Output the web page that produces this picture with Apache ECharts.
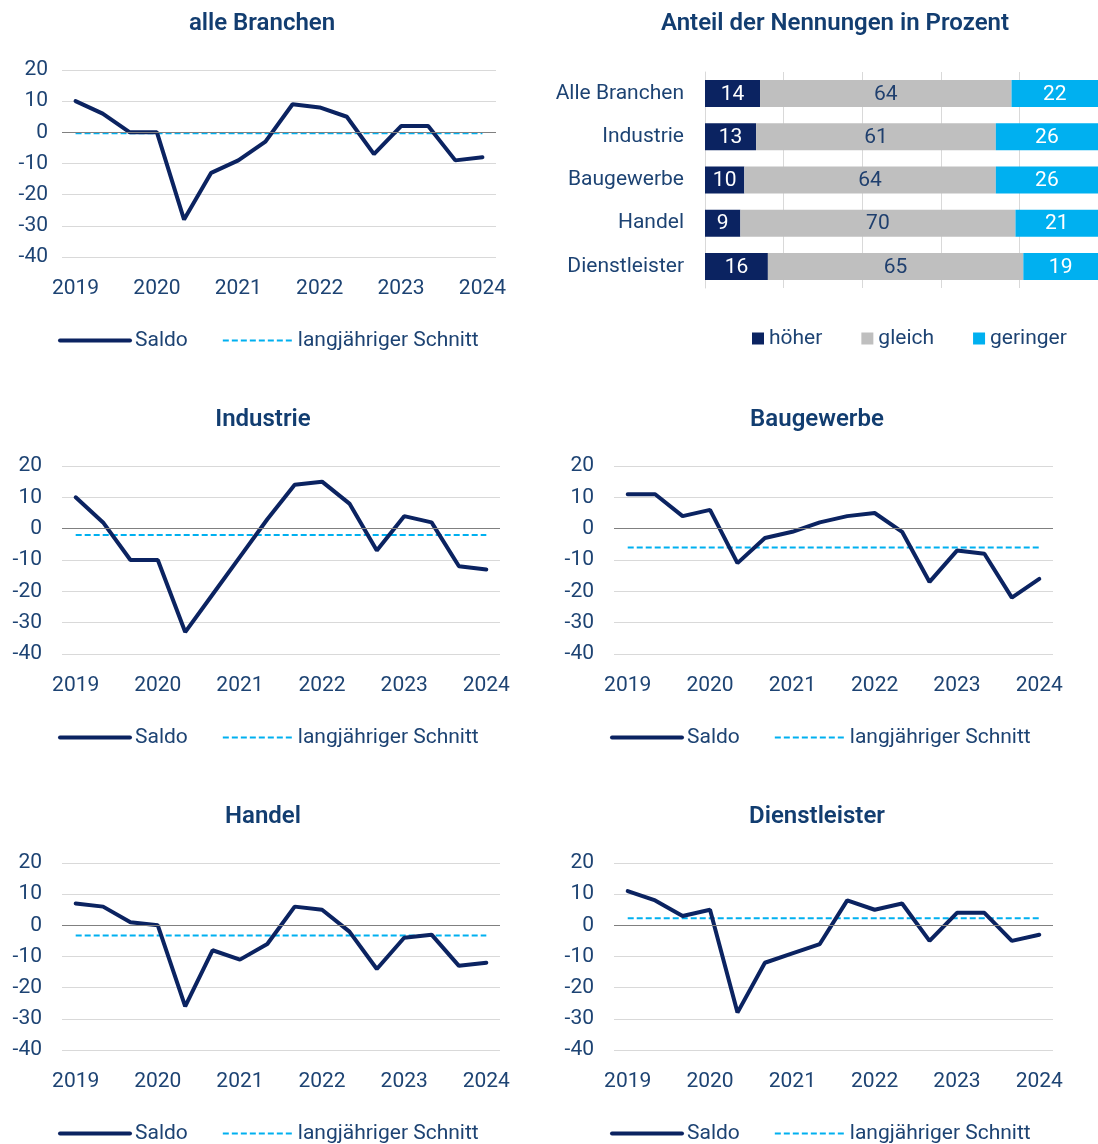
<!DOCTYPE html>
<html>
<head>
<meta charset="utf-8">
<script src="https://cdn.jsdelivr.net/npm/echarts@6/dist/echarts.min.js"></script>
<style>
  html, body { margin: 0; padding: 0; background: #fff; }
  #chart { width: 1098px; height: 1144px; }
</style>
</head>
<body>
<div id="chart"></div>
<script>
  // Perioden: drei Umfragen pro Jahr
  const periods = ['2019-1', '2019-2', '2019-3', '2020-1', '2020-2', '2020-3', '2021-1', '2021-2', '2021-3',
    '2022-1', '2022-2', '2022-3', '2023-1', '2023-2', '2023-3', '2024-1'];

  const alleSaldo = [10, 6, 0, 0, -28, -13, -9, -3, 9, 8, 5, -7, 2, 2, -9, -8];
  const industrieSaldo = [10, 2, -10, -10, -33, -21, -9, 3, 14, 15, 8, -7, 4, 2, -12, -13];
  const bauSaldo = [11, 11, 4, 6, -11, -3, -1, 2, 4, 5, -1, -17, -7, -8, -22, -16];
  const handelSaldo = [7, 6, 1, 0, -26, -8, -11, -6, 6, 5, -2, -14, -4, -3, -13, -12];
  const dienstSaldo = [11, 8, 3, 5, -28, -12, -9, -6, 8, 5, 7, -5, 4, 4, -5, -3];

  // langjähriger Schnitt je Branche
  const alleSchnitt = -0.3;
  const industrieSchnitt = -2;
  const bauSchnitt = -6;
  const handelSchnitt = -3.3;
  const dienstSchnitt = 2.3;

  // Anteil der Nennungen in Prozent
  const branchen = ['Alle Branchen', 'Industrie', 'Baugewerbe', 'Handel', 'Dienstleister'];
  const hoeher = [14, 13, 10, 9, 16];
  const gleich = [64, 61, 64, 70, 65];
  const geringer = [22, 26, 26, 21, 19];

  const yTicks = { min: -40, max: 20, interval: 10 };

  const FONT = 'Roboto, "Noto Sans", sans-serif';
  const NAVY = '#0b2361';
  const CYAN = '#00b0f0';
  const GREY = '#bfbfbf';
  const TXT = '#1d4373';
  const TITLE = '#123d70';

  // Panels der Liniencharts
  const panels = [
    { title: 'alle Branchen', saldo: alleSaldo, schnitt: alleSchnitt, left: 62, width: 434, top: 70, height: 187, cx: 262, labelMargin: 14 },
    { title: 'Industrie', saldo: industrieSaldo, schnitt: industrieSchnitt, left: 62, width: 438, top: 466, height: 188, cx: 263, labelMargin: 20 },
    { title: 'Baugewerbe', saldo: bauSaldo, schnitt: bauSchnitt, left: 614, width: 439, top: 466, height: 188, cx: 817, labelMargin: 20 },
    { title: 'Handel', saldo: handelSaldo, schnitt: handelSchnitt, left: 62, width: 438, top: 863, height: 187, cx: 263, labelMargin: 20 },
    { title: 'Dienstleister', saldo: dienstSaldo, schnitt: dienstSchnitt, left: 614, width: 439, top: 863, height: 187, cx: 817, labelMargin: 20 }
  ];

  const grid = [], xAxis = [], yAxis = [], series = [], title = [], legend = [];

  panels.forEach(function (p, i) {
    grid.push({ left: p.left, top: p.top, width: p.width, height: p.height });
    xAxis.push({
      type: 'category', gridIndex: i, data: periods, boundaryGap: true,
      axisLine: { show: false }, axisTick: { show: false }, splitLine: { show: false },
      axisLabel: {
        interval: function (idx) { return idx % 3 === 0; },
        formatter: function (v) { return v.slice(0, 4); },
        margin: 21, fontSize: 21, color: TXT, fontFamily: FONT
      }
    });
    yAxis.push({
      type: 'value', gridIndex: i, min: yTicks.min, max: yTicks.max, interval: yTicks.interval,
      axisLine: { show: false }, axisTick: { show: false },
      axisLabel: { fontSize: 21, color: TXT, fontFamily: FONT, margin: p.labelMargin },
      splitLine: { lineStyle: { color: '#d9d9d9', width: 1 } }
    });
    series.push({
      name: 'langjähriger Schnitt', type: 'line', xAxisIndex: i, yAxisIndex: i,
      data: periods.map(function () { return p.schnitt; }),
      symbol: 'none', silent: true,
      lineStyle: { color: CYAN, width: 2, type: [6, 3] },
      itemStyle: { color: CYAN },
      markLine: {
        silent: true, symbol: 'none', label: { show: false },
        lineStyle: { color: '#808080', type: 'solid', width: 1 },
        data: [{ yAxis: 0 }]
      },
      z: 2
    });
    series.push({
      name: 'Saldo', type: 'line', xAxisIndex: i, yAxisIndex: i,
      data: p.saldo, symbol: 'none', silent: true,
      lineStyle: { color: NAVY, width: 4, cap: 'round' },
      itemStyle: { color: NAVY },
      z: 3
    });
    title.push({
      text: p.title, left: p.cx, textAlign: 'center', top: p.top - 58, padding: 0,
      textStyle: { fontSize: 24, fontWeight: 600, color: TITLE, fontFamily: FONT }
    });
    legend.push({
      data: [
        { name: 'Saldo', lineStyle: { width: 4, cap: 'round' } },
        { name: 'langjähriger Schnitt', lineStyle: { width: 2, type: [6, 3] } }
      ],
      left: p.left - 4, top: p.top + p.height + 73, padding: 0,
      itemWidth: 70, itemHeight: 14, itemGap: 34,
      itemStyle: { opacity: 0 },
      textStyle: { fontSize: 21, color: TXT, fontFamily: FONT },
      selectedMode: false
    });
  });

  // Balkendiagramm
  const b = panels.length;
  grid.push({ left: 705, top: 72, width: 395, height: 216 });
  xAxis.push({
    type: 'value', gridIndex: b, min: 0, max: 100, interval: 20,
    axisLine: { show: false }, axisTick: { show: false }, axisLabel: { show: false },
    splitLine: { lineStyle: { color: '#d9d9d9', width: 1 } }
  });
  yAxis.push({
    type: 'category', gridIndex: b, data: branchen, inverse: true,
    axisLine: { lineStyle: { color: '#d9d9d9', width: 1 } }, axisTick: { show: false },
    axisLabel: { fontSize: 21, color: TXT, fontFamily: FONT, margin: 21 }
  });
  const barParts = [
    { name: 'höher', data: hoeher, color: NAVY, label: '#ffffff' },
    { name: 'gleich', data: gleich, color: GREY, label: '#1f3f6e' },
    { name: 'geringer', data: geringer, color: CYAN, label: '#ffffff' }
  ];
  barParts.forEach(function (s) {
    series.push({
      name: s.name, type: 'bar', stack: 'anteil', xAxisIndex: b, yAxisIndex: b,
      data: s.data, barWidth: 27, silent: true,
      itemStyle: { color: s.color },
      label: { show: true, position: 'inside', color: s.label, fontSize: 21, fontFamily: FONT, offset: [0, 1] }
    });
  });
  title.push({
    text: 'Anteil der Nennungen in Prozent', left: 835, textAlign: 'center', top: 12, padding: 0,
    textStyle: { fontSize: 24, fontWeight: 600, color: TITLE, fontFamily: FONT }
  });
  legend.push({
    data: ['höher', 'gleich', 'geringer'], icon: 'rect',
    left: 752, top: 328, padding: 0,
    itemWidth: 12, itemHeight: 12, itemGap: 39,
    textStyle: { fontSize: 21, color: TXT, fontFamily: FONT },
    selectedMode: false
  });

  const chart = echarts.init(document.getElementById('chart'), null, { renderer: 'canvas' });
  chart.setOption({
    animation: false,
    backgroundColor: '#ffffff',
    title: title,
    legend: legend,
    grid: grid,
    xAxis: xAxis,
    yAxis: yAxis,
    series: series
  });
</script>
</body>
</html>
